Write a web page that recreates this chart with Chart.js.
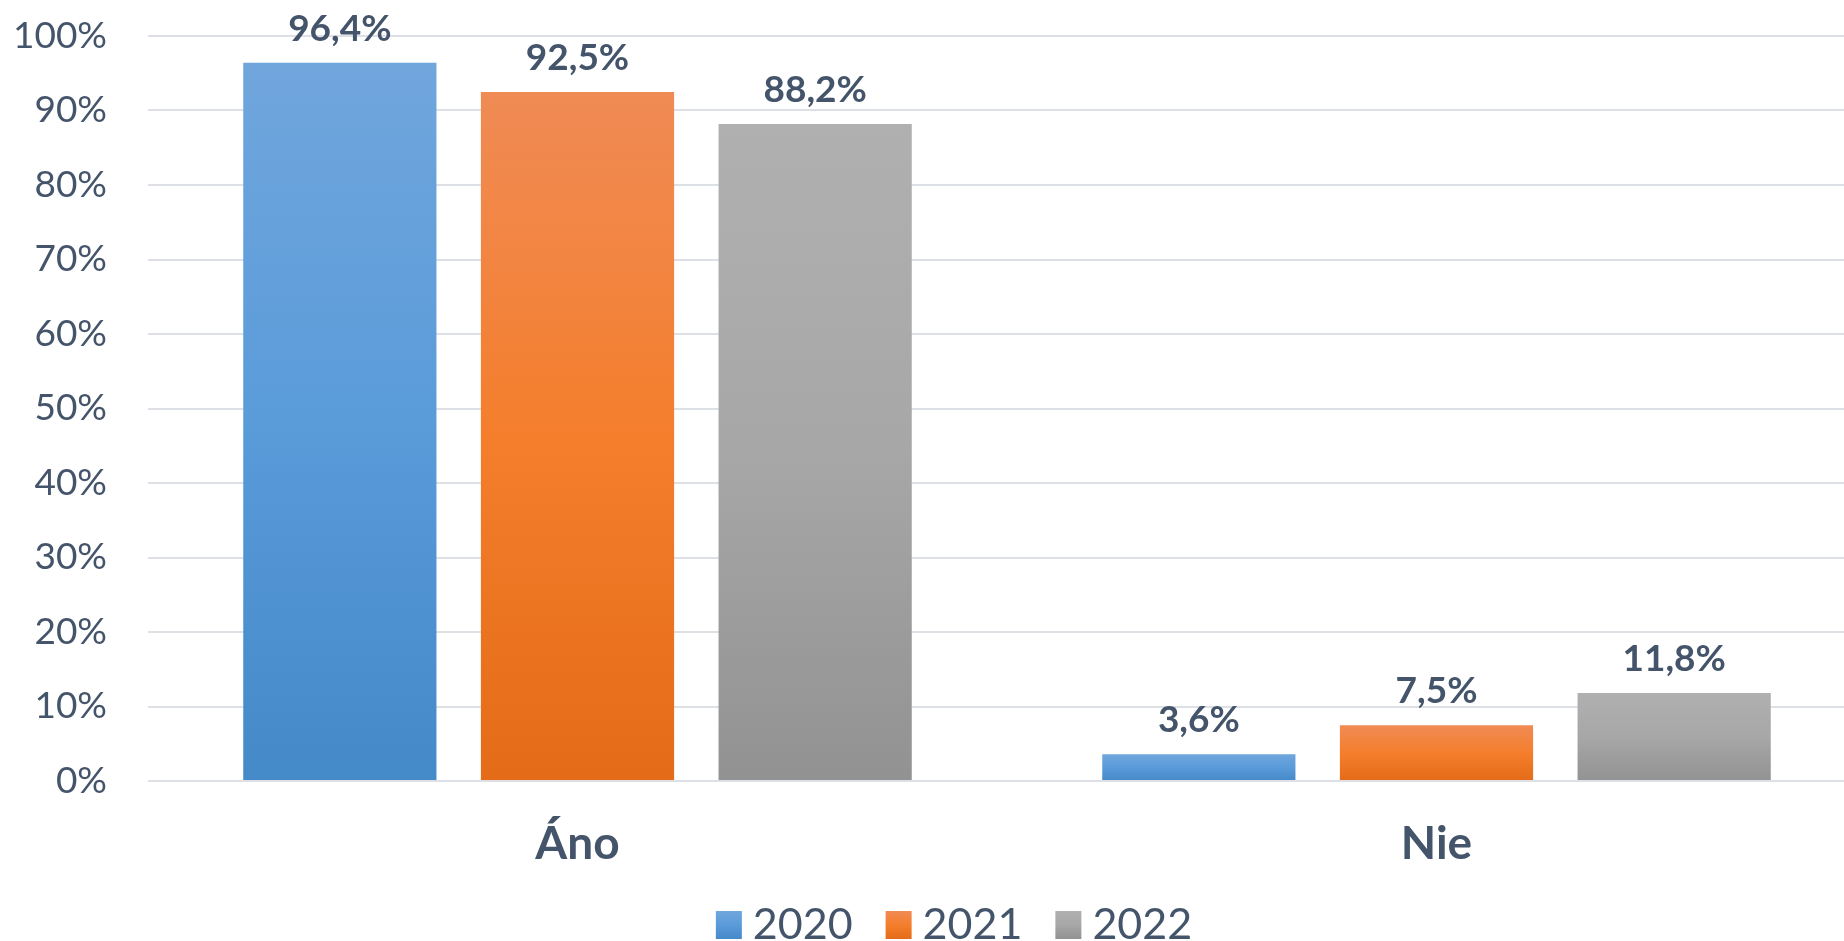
<!DOCTYPE html>
<html>
<head>
<meta charset="utf-8">
<script src="https://cdn.jsdelivr.net/npm/chart.js@4/dist/chart.umd.min.js"></script>
<style>
  html, body { margin: 0; padding: 0; background: #fff; overflow: hidden; }
  #wrap { width: 1880px; height: 941px; position: relative; }
</style>
</head>
<body>
<div id="wrap"><canvas id="chart"></canvas></div>
<script>
const categories = ['Áno', 'Nie'];
const seriesNames = ['2020', '2021', '2022'];
const values2020 = [96.4, 3.6];
const values2021 = [92.5, 7.5];
const values2022 = [88.2, 11.8];
const yTicks = [0, 10, 20, 30, 40, 50, 60, 70, 80, 90, 100];

const textColor = '#44546A';
const fontFamily = 'Lato, "Open Sans", sans-serif';

// top / middle / bottom of each bar's gradient
const gradients = [
  ['#70A6DC', '#5A9BDA', '#4489C8'],
  ['#F08B55', '#F47E2C', '#E46C18'],
  ['#B0B0B0', '#A7A7A7', '#929292']
];

function fmt(v) {
  return v.toFixed(1).replace('.', ',') + '%';
}

function makeGradient(ctx, top, bottom, stops) {
  const g = ctx.createLinearGradient(0, top, 0, bottom);
  g.addColorStop(0, stops[0]);
  g.addColorStop(0.5, stops[1]);
  g.addColorStop(1, stops[2]);
  return g;
}

// each bar gets its own gradient, from its top down to the zero line
function barFill(i) {
  return function (c) {
    const chart = c.chart;
    if (c.type !== 'data' || !chart.chartArea) return gradients[i][1];
    const y = chart.scales.y;
    return makeGradient(chart.ctx, y.getPixelForValue(c.raw), y.getPixelForValue(0), gradients[i]);
  };
}

const valueLabels = {
  id: 'valueLabels',
  afterDatasetsDraw(chart) {
    const ctx = chart.ctx;
    ctx.save();
    ctx.font = 'bold 37px ' + fontFamily;
    ctx.fillStyle = textColor;
    ctx.textAlign = 'center';
    ctx.textBaseline = 'alphabetic';
    chart.data.datasets.forEach((ds, i) => {
      chart.getDatasetMeta(i).data.forEach((el, j) => {
        ctx.fillText(fmt(ds.data[j]), el.x, el.y - 22);
      });
    });
    ctx.restore();
  }
};

const bottomLegend = {
  id: 'bottomLegend',
  afterDraw(chart) {
    const ctx = chart.ctx;
    ctx.save();
    ctx.font = '43px ' + fontFamily;
    const boxW = 26, boxH = 28, gap = 11, itemGap = 33;
    const widths = chart.data.datasets.map(ds => ctx.measureText(ds.label).width);
    let total = 0;
    widths.forEach((w, i) => { total += boxW + gap + w + (i < widths.length - 1 ? itemGap : 0); });
    let x = 954 - total / 2;
    const baseY = 939;
    chart.data.datasets.forEach((ds, i) => {
      ctx.fillStyle = makeGradient(ctx, baseY - boxH, baseY, gradients[i]);
      ctx.fillRect(x, baseY - boxH, boxW, boxH);
      ctx.fillStyle = textColor;
      ctx.textAlign = 'left';
      ctx.textBaseline = 'alphabetic';
      ctx.fillText(ds.label, x + boxW + gap, baseY);
      x += boxW + gap + widths[i] + itemGap;
    });
    ctx.restore();
  }
};

const ctx = document.getElementById('chart').getContext('2d');
new Chart(ctx, {
  type: 'bar',
  data: {
    labels: categories,
    datasets: [
      { label: seriesNames[0], data: values2020, backgroundColor: barFill(0) },
      { label: seriesNames[1], data: values2021, backgroundColor: barFill(1) },
      { label: seriesNames[2], data: values2022, backgroundColor: barFill(2) }
    ]
  },
  options: {
    responsive: true,
    maintainAspectRatio: false,
    animation: false,
    categoryPercentage: 0.83,
    barPercentage: 0.813,
    layout: { padding: { top: 36, right: 14, left: 0, bottom: 0 } },
    plugins: {
      legend: { display: false },
      tooltip: { enabled: false }
    },
    scales: {
      x: {
        grid: { display: false, drawTicks: false },
        border: { display: false },
        ticks: {
          color: textColor,
          font: { family: fontFamily, size: 46, weight: 'bold' },
          padding: 36
        },
        afterFit(scale) { scale.height = 160; }
      },
      y: {
        min: 0,
        max: 100,
        afterBuildTicks(scale) { scale.ticks = yTicks.map(v => ({ value: v })); },
        grid: { color: '#DDE1E6', lineWidth: 2, drawTicks: false },
        border: { display: false },
        ticks: {
          color: textColor,
          font: { family: fontFamily, size: 37 },
          padding: 41,
          callback: v => v + '%'
        },
        afterFit(scale) {
          scale.width = 148;
          scale.paddingTop = 0;
          scale.paddingBottom = 0;
        }
      }
    }
  },
  plugins: [valueLabels, bottomLegend]
});
</script>
</body>
</html>
